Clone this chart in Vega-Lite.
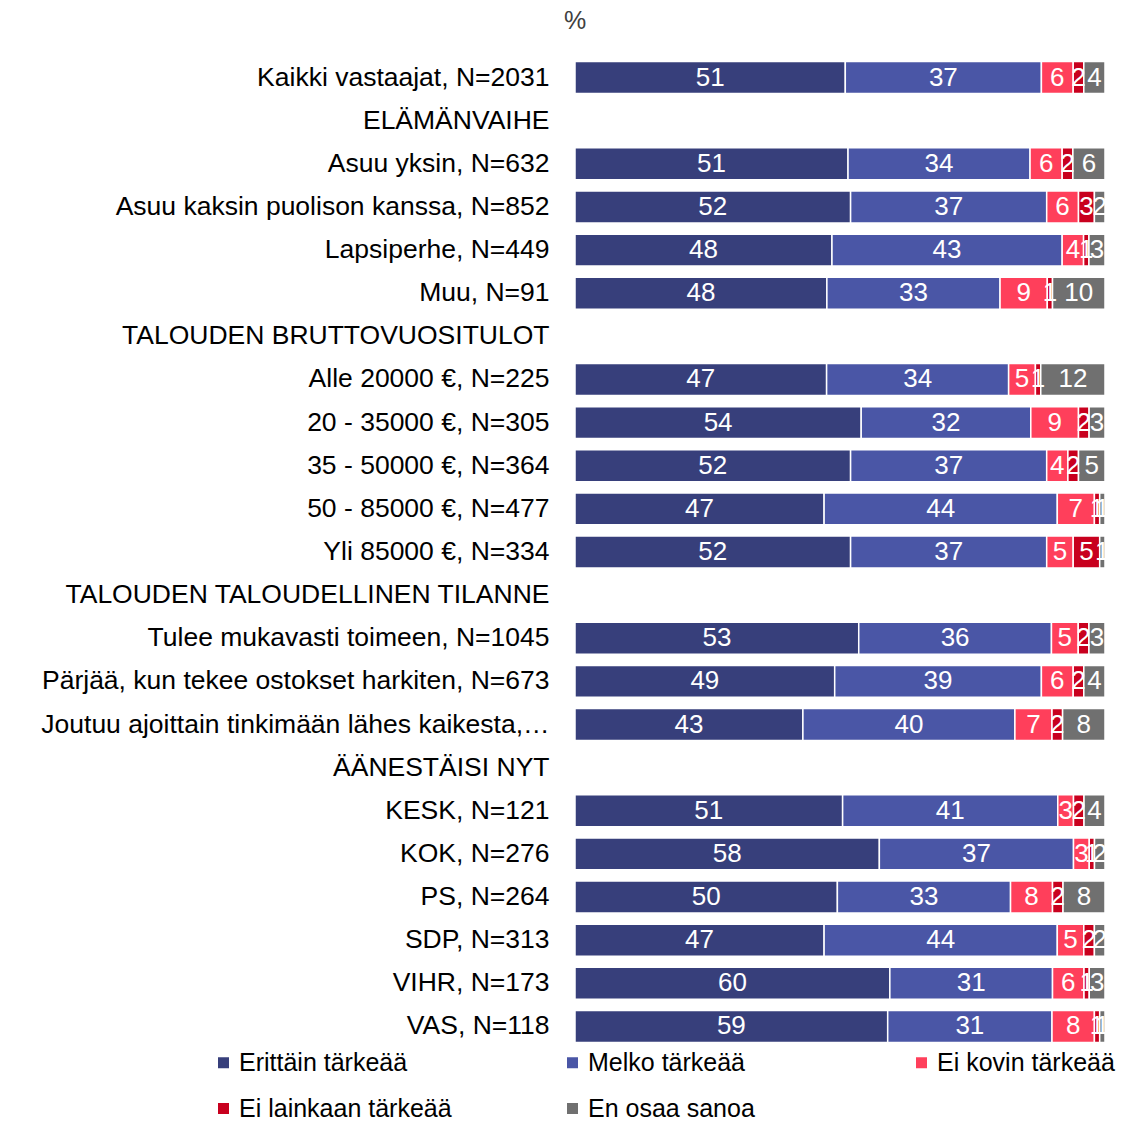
{
"$schema": "https://vega.github.io/schema/vega-lite/v6.json",
"autosize": "none",
"width": 530,
"height": 992,
"padding": {"left": 575, "top": 56, "right": 34, "bottom": 73},
"background": "white",
"config": {"view": {"stroke": null}, "font": "Liberation Sans"},
"title": {"text": "%", "anchor": "start", "align": "center", "frame": "group", "fontSize": 25, "fontWeight": "normal", "color": "#404040", "font": "Liberation Sans", "offset": 22},
"data": {"values": [
{"g":"Kaikki vastaajat, N=2031","c":"Erittäin tärkeää","v":51,"o":1},{"g":"Kaikki vastaajat, N=2031","c":"Melko tärkeää","v":37,"o":2},{"g":"Kaikki vastaajat, N=2031","c":"Ei kovin tärkeää","v":6,"o":3},{"g":"Kaikki vastaajat, N=2031","c":"Ei lainkaan tärkeää","v":2,"o":4},{"g":"Kaikki vastaajat, N=2031","c":"En osaa sanoa","v":4,"o":5},
{"g":"Asuu yksin, N=632","c":"Erittäin tärkeää","v":51,"o":1},{"g":"Asuu yksin, N=632","c":"Melko tärkeää","v":34,"o":2},{"g":"Asuu yksin, N=632","c":"Ei kovin tärkeää","v":6,"o":3},{"g":"Asuu yksin, N=632","c":"Ei lainkaan tärkeää","v":2,"o":4},{"g":"Asuu yksin, N=632","c":"En osaa sanoa","v":6,"o":5},
{"g":"Asuu kaksin puolison kanssa, N=852","c":"Erittäin tärkeää","v":52,"o":1},{"g":"Asuu kaksin puolison kanssa, N=852","c":"Melko tärkeää","v":37,"o":2},{"g":"Asuu kaksin puolison kanssa, N=852","c":"Ei kovin tärkeää","v":6,"o":3},{"g":"Asuu kaksin puolison kanssa, N=852","c":"Ei lainkaan tärkeää","v":3,"o":4},{"g":"Asuu kaksin puolison kanssa, N=852","c":"En osaa sanoa","v":2,"o":5},
{"g":"Lapsiperhe, N=449","c":"Erittäin tärkeää","v":48,"o":1},{"g":"Lapsiperhe, N=449","c":"Melko tärkeää","v":43,"o":2},{"g":"Lapsiperhe, N=449","c":"Ei kovin tärkeää","v":4,"o":3},{"g":"Lapsiperhe, N=449","c":"Ei lainkaan tärkeää","v":1,"o":4},{"g":"Lapsiperhe, N=449","c":"En osaa sanoa","v":3,"o":5},
{"g":"Muu, N=91","c":"Erittäin tärkeää","v":48,"o":1},{"g":"Muu, N=91","c":"Melko tärkeää","v":33,"o":2},{"g":"Muu, N=91","c":"Ei kovin tärkeää","v":9,"o":3},{"g":"Muu, N=91","c":"Ei lainkaan tärkeää","v":1,"o":4},{"g":"Muu, N=91","c":"En osaa sanoa","v":10,"o":5},
{"g":"Alle 20000 €, N=225","c":"Erittäin tärkeää","v":47,"o":1},{"g":"Alle 20000 €, N=225","c":"Melko tärkeää","v":34,"o":2},{"g":"Alle 20000 €, N=225","c":"Ei kovin tärkeää","v":5,"o":3},{"g":"Alle 20000 €, N=225","c":"Ei lainkaan tärkeää","v":1,"o":4},{"g":"Alle 20000 €, N=225","c":"En osaa sanoa","v":12,"o":5},
{"g":"20 - 35000 €, N=305","c":"Erittäin tärkeää","v":54,"o":1},{"g":"20 - 35000 €, N=305","c":"Melko tärkeää","v":32,"o":2},{"g":"20 - 35000 €, N=305","c":"Ei kovin tärkeää","v":9,"o":3},{"g":"20 - 35000 €, N=305","c":"Ei lainkaan tärkeää","v":2,"o":4},{"g":"20 - 35000 €, N=305","c":"En osaa sanoa","v":3,"o":5},
{"g":"35 - 50000 €, N=364","c":"Erittäin tärkeää","v":52,"o":1},{"g":"35 - 50000 €, N=364","c":"Melko tärkeää","v":37,"o":2},{"g":"35 - 50000 €, N=364","c":"Ei kovin tärkeää","v":4,"o":3},{"g":"35 - 50000 €, N=364","c":"Ei lainkaan tärkeää","v":2,"o":4},{"g":"35 - 50000 €, N=364","c":"En osaa sanoa","v":5,"o":5},
{"g":"50 - 85000 €, N=477","c":"Erittäin tärkeää","v":47,"o":1},{"g":"50 - 85000 €, N=477","c":"Melko tärkeää","v":44,"o":2},{"g":"50 - 85000 €, N=477","c":"Ei kovin tärkeää","v":7,"o":3},{"g":"50 - 85000 €, N=477","c":"Ei lainkaan tärkeää","v":1,"o":4},{"g":"50 - 85000 €, N=477","c":"En osaa sanoa","v":1,"o":5},
{"g":"Yli 85000 €, N=334","c":"Erittäin tärkeää","v":52,"o":1},{"g":"Yli 85000 €, N=334","c":"Melko tärkeää","v":37,"o":2},{"g":"Yli 85000 €, N=334","c":"Ei kovin tärkeää","v":5,"o":3},{"g":"Yli 85000 €, N=334","c":"Ei lainkaan tärkeää","v":5,"o":4},{"g":"Yli 85000 €, N=334","c":"En osaa sanoa","v":1,"o":5},
{"g":"Tulee mukavasti toimeen, N=1045","c":"Erittäin tärkeää","v":53,"o":1},{"g":"Tulee mukavasti toimeen, N=1045","c":"Melko tärkeää","v":36,"o":2},{"g":"Tulee mukavasti toimeen, N=1045","c":"Ei kovin tärkeää","v":5,"o":3},{"g":"Tulee mukavasti toimeen, N=1045","c":"Ei lainkaan tärkeää","v":2,"o":4},{"g":"Tulee mukavasti toimeen, N=1045","c":"En osaa sanoa","v":3,"o":5},
{"g":"Pärjää, kun tekee ostokset harkiten, N=673","c":"Erittäin tärkeää","v":49,"o":1},{"g":"Pärjää, kun tekee ostokset harkiten, N=673","c":"Melko tärkeää","v":39,"o":2},{"g":"Pärjää, kun tekee ostokset harkiten, N=673","c":"Ei kovin tärkeää","v":6,"o":3},{"g":"Pärjää, kun tekee ostokset harkiten, N=673","c":"Ei lainkaan tärkeää","v":2,"o":4},{"g":"Pärjää, kun tekee ostokset harkiten, N=673","c":"En osaa sanoa","v":4,"o":5},
{"g":"Joutuu ajoittain tinkimään lähes kaikesta,…","c":"Erittäin tärkeää","v":43,"o":1},{"g":"Joutuu ajoittain tinkimään lähes kaikesta,…","c":"Melko tärkeää","v":40,"o":2},{"g":"Joutuu ajoittain tinkimään lähes kaikesta,…","c":"Ei kovin tärkeää","v":7,"o":3},{"g":"Joutuu ajoittain tinkimään lähes kaikesta,…","c":"Ei lainkaan tärkeää","v":2,"o":4},{"g":"Joutuu ajoittain tinkimään lähes kaikesta,…","c":"En osaa sanoa","v":8,"o":5},
{"g":"KESK, N=121","c":"Erittäin tärkeää","v":51,"o":1},{"g":"KESK, N=121","c":"Melko tärkeää","v":41,"o":2},{"g":"KESK, N=121","c":"Ei kovin tärkeää","v":3,"o":3},{"g":"KESK, N=121","c":"Ei lainkaan tärkeää","v":2,"o":4},{"g":"KESK, N=121","c":"En osaa sanoa","v":4,"o":5},
{"g":"KOK, N=276","c":"Erittäin tärkeää","v":58,"o":1},{"g":"KOK, N=276","c":"Melko tärkeää","v":37,"o":2},{"g":"KOK, N=276","c":"Ei kovin tärkeää","v":3,"o":3},{"g":"KOK, N=276","c":"Ei lainkaan tärkeää","v":1,"o":4},{"g":"KOK, N=276","c":"En osaa sanoa","v":2,"o":5},
{"g":"PS, N=264","c":"Erittäin tärkeää","v":50,"o":1},{"g":"PS, N=264","c":"Melko tärkeää","v":33,"o":2},{"g":"PS, N=264","c":"Ei kovin tärkeää","v":8,"o":3},{"g":"PS, N=264","c":"Ei lainkaan tärkeää","v":2,"o":4},{"g":"PS, N=264","c":"En osaa sanoa","v":8,"o":5},
{"g":"SDP, N=313","c":"Erittäin tärkeää","v":47,"o":1},{"g":"SDP, N=313","c":"Melko tärkeää","v":44,"o":2},{"g":"SDP, N=313","c":"Ei kovin tärkeää","v":5,"o":3},{"g":"SDP, N=313","c":"Ei lainkaan tärkeää","v":2,"o":4},{"g":"SDP, N=313","c":"En osaa sanoa","v":2,"o":5},
{"g":"VIHR, N=173","c":"Erittäin tärkeää","v":60,"o":1},{"g":"VIHR, N=173","c":"Melko tärkeää","v":31,"o":2},{"g":"VIHR, N=173","c":"Ei kovin tärkeää","v":6,"o":3},{"g":"VIHR, N=173","c":"Ei lainkaan tärkeää","v":1,"o":4},{"g":"VIHR, N=173","c":"En osaa sanoa","v":3,"o":5},
{"g":"VAS, N=118","c":"Erittäin tärkeää","v":59,"o":1},{"g":"VAS, N=118","c":"Melko tärkeää","v":31,"o":2},{"g":"VAS, N=118","c":"Ei kovin tärkeää","v":8,"o":3},{"g":"VAS, N=118","c":"Ei lainkaan tärkeää","v":1,"o":4},{"g":"VAS, N=118","c":"En osaa sanoa","v":1,"o":5}
]},
"encoding": {
  "y": {"field": "g", "type": "nominal", "title": null,
    "scale": {"domain": ["Kaikki vastaajat, N=2031","ELÄMÄNVAIHE","Asuu yksin, N=632","Asuu kaksin puolison kanssa, N=852","Lapsiperhe, N=449","Muu, N=91","TALOUDEN BRUTTOVUOSITULOT","Alle 20000 €, N=225","20 - 35000 €, N=305","35 - 50000 €, N=364","50 - 85000 €, N=477","Yli 85000 €, N=334","TALOUDEN TALOUDELLINEN TILANNE","Tulee mukavasti toimeen, N=1045","Pärjää, kun tekee ostokset harkiten, N=673","Joutuu ajoittain tinkimään lähes kaikesta,…","ÄÄNESTÄISI NYT","KESK, N=121","KOK, N=276","PS, N=264","SDP, N=313","VIHR, N=173","VAS, N=118"], "paddingInner": 0.26, "paddingOuter": 0.13},
    "axis": {"domain": false, "ticks": false, "labelPadding": 26, "labelFontSize": 26.5, "labelColor": "#000000", "labelFont": "Liberation Sans", "labelLimit": 700}}
},
"layer": [
  {"mark": {"type": "bar", "stroke": "white", "strokeWidth": 1.5},
   "encoding": {
     "x": {"field": "v", "type": "quantitative", "stack": "normalize", "axis": null, "scale": {"domain": [0, 1]}},
     "color": {"field": "c", "type": "nominal", "title": null,
       "scale": {"domain": ["Erittäin tärkeää","Melko tärkeää","Ei kovin tärkeää","Ei lainkaan tärkeää","En osaa sanoa"], "range": ["#373f7b","#4a56a6","#ff3f5b","#c8001e","#707070"]},
       "legend": {"orient": "none", "legendX": -364, "legendY": 994, "direction": "horizontal", "columns": 3, "gridAlign": "all", "columnPadding": 108, "rowPadding": 20, "symbolType": "square", "symbolSize": 121, "symbolStrokeWidth": 0, "labelFontSize": 25, "labelFont": "Liberation Sans", "labelColor": "#000000", "labelOffset": 3, "labelLimit": 400}},
     "order": {"field": "o", "type": "quantitative"}
   }},
  {"mark": {"type": "text", "color": "white", "fontSize": 26, "font": "Liberation Sans", "baseline": "middle", "align": "center"},
   "encoding": {
     "x": {"field": "v", "type": "quantitative", "stack": "normalize", "bandPosition": 0.5},
     "detail": {"field": "c"},
     "order": {"field": "o", "type": "quantitative"},
     "text": {"field": "v", "type": "quantitative"}
   }}
]
}
